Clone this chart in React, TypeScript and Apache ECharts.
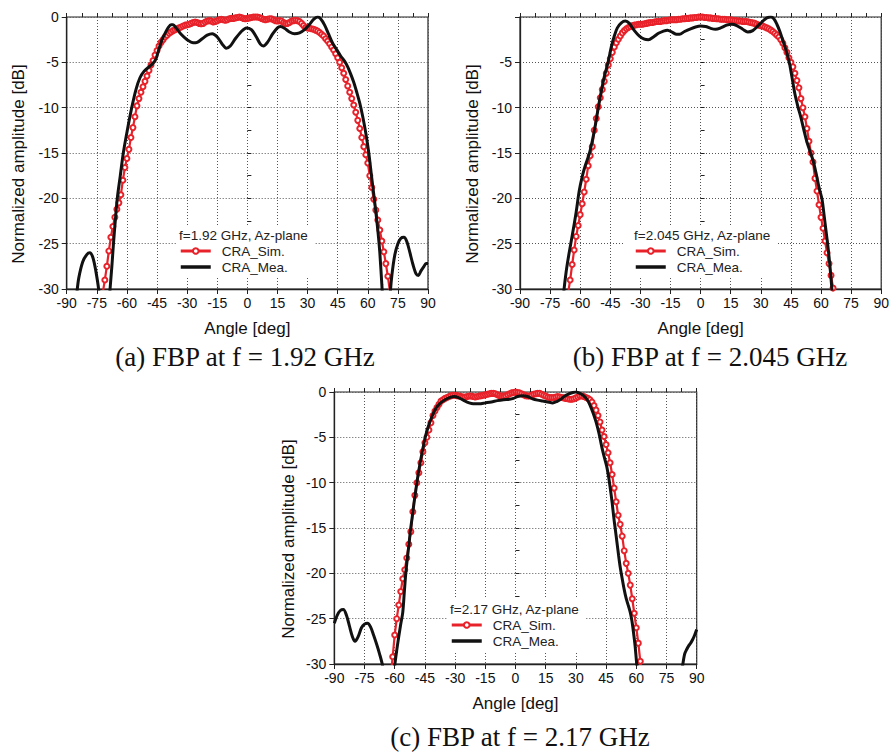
import React, { useEffect, useRef } from 'react';
import * as echarts from 'echarts';

// ---------- DATA ----------
const SERIES_NAMES = ['CRA_Sim.', 'CRA_Mea.'];
const LEGEND_TITLES = ['f=1.92 GHz, Az-plane', 'f=2.045 GHz, Az-plane', 'f=2.17 GHz, Az-plane'];
const CAPTIONS = ['(a) FBP at f = 1.92 GHz', '(b) FBP at f = 2.045 GHz', '(c) FBP at f = 2.17 GHz'];
const X_TITLE = 'Angle [deg]';
const Y_TITLE = 'Normalized amplitude [dB]';

// Simulated patterns, 1-degree steps starting at *_START
const SIM_A_START = -73;
const SIM_A = [
  -31.6, -30.4, -29.0, -27.5, -25.8, -24.3, -23.1, -22.1, -21.2, -20.5,
  -19.6, -18.0, -16.6, -15.6, -14.6, -13.3, -12.2, -11.0, -9.8, -9.0,
  -8.3, -7.7, -7.1, -6.5, -5.9, -5.3, -4.8, -4.2, -3.7, -3.2,
  -2.8, -2.5, -2.2, -2.0, -1.8, -1.65, -1.5, -1.4, -1.3, -1.2,
  -1.1, -1.0, -0.9, -0.85, -0.8, -0.7, -0.6, -0.55, -0.6, -0.7,
  -0.75, -0.7, -0.55, -0.45, -0.4, -0.45, -0.55, -0.5, -0.4, -0.3,
  -0.25, -0.3, -0.35, -0.3, -0.2, -0.15, -0.15, -0.1, -0.05, 0,
  -0.05, -0.15, -0.2, -0.15, -0.1, -0.05, 0, 0, 0, -0.05,
  -0.15, -0.25, -0.3, -0.25, -0.2, -0.2, -0.3, -0.4, -0.45, -0.4,
  -0.45, -0.6, -0.7, -0.7, -0.6, -0.45, -0.4, -0.35, -0.4, -0.5,
  -0.7, -0.95, -1.15, -1.2, -1.25, -1.3, -1.35, -1.45, -1.55, -1.7,
  -1.9, -2.1, -2.4, -2.65, -2.95, -3.3, -3.65, -4.05, -4.5, -5.0,
  -5.6, -6.2, -6.9, -7.6, -8.3, -9.0, -9.7, -10.5, -11.4, -12.3,
  -13.3, -14.3, -15.2, -16.1, -17.5, -18.8, -20.1, -21.3, -22.4, -23.5,
  -24.7, -25.9, -27.2, -28.6, -30.2, -31.6,
];

const SIM_B_START = -67;
const SIM_B = [
  -31.8, -30.4, -29.0, -27.3, -25.7, -24.2, -23.0, -21.8, -20.6, -19.3,
  -17.9, -16.4, -15.3, -14.3, -12.5, -11.2, -9.9, -8.9, -8.0, -7.1,
  -6.2, -5.3, -4.6, -3.9, -3.3, -2.85, -2.45, -2.1, -1.75, -1.5,
  -1.3, -1.15, -1.05, -0.95, -0.9, -0.85, -0.8, -0.8, -0.8, -0.75,
  -0.7, -0.65, -0.6, -0.6, -0.55, -0.5, -0.5, -0.5, -0.45, -0.4,
  -0.4, -0.35, -0.3, -0.3, -0.3, -0.3, -0.25, -0.25, -0.2, -0.2,
  -0.15, -0.15, -0.1, -0.1, -0.05, -0.05, 0, 0, 0, -0.05,
  -0.05, -0.1, -0.1, -0.15, -0.15, -0.2, -0.2, -0.25, -0.25, -0.25,
  -0.3, -0.3, -0.3, -0.35, -0.4, -0.4, -0.45, -0.45, -0.5, -0.5,
  -0.5, -0.55, -0.6, -0.65, -0.7, -0.8, -0.9, -0.95, -1.0, -1.1,
  -1.2, -1.3, -1.45, -1.6, -1.8, -2.0, -2.2, -2.5, -2.9, -3.4,
  -3.9, -4.5, -5.0, -5.5, -6.2, -7.0, -7.8, -9.0, -10.0, -11.0,
  -12.3, -13.7, -15.0, -16.0, -17.8, -19.2, -20.7, -22.1, -23.3, -24.7,
  -26.0, -27.2, -28.5, -29.9, -31.3,
];

const SIM_C_START = -63;
const SIM_C = [
  -33, -31.3, -29.2, -26.8, -25.0, -23.5, -22.0, -20.6, -19.6, -18.3,
  -16.8, -15.4, -13.2, -11.4, -10.0, -8.9, -7.8, -6.6, -5.6, -5.0,
  -4.2, -3.4, -2.6, -2.1, -1.7, -1.35, -1.0, -0.85, -0.7, -0.6,
  -0.5, -0.4, -0.35, -0.35, -0.4, -0.45, -0.5, -0.55, -0.55, -0.5,
  -0.45, -0.45, -0.5, -0.55, -0.5, -0.45, -0.4, -0.35, -0.3, -0.25,
  -0.2, -0.15, -0.15, -0.2, -0.3, -0.4, -0.45, -0.45, -0.4, -0.3,
  -0.2, -0.1, -0.05, 0, -0.05, -0.1, -0.2, -0.3, -0.4, -0.45,
  -0.45, -0.35, -0.25, -0.2, -0.15, -0.15, -0.25, -0.35, -0.45, -0.55,
  -0.6, -0.6, -0.6, -0.55, -0.5, -0.55, -0.6, -0.65, -0.7, -0.75,
  -0.8, -0.8, -0.75, -0.65, -0.55, -0.45, -0.45, -0.5, -0.6, -0.7,
  -0.85, -1.1, -1.5, -2.0, -2.6, -3.3, -4.2, -4.9, -5.8, -6.7,
  -7.8, -9.1, -10.6, -12.1, -13.6, -14.6, -15.9, -17.5, -18.9, -20.0,
  -21.3, -22.8, -24.4, -26.0, -27.7, -29.7, -32,
];

// Measured patterns: [angle, dB]
const MEAS_A: [number, number | string][] = [
  [-86, -32], [-85, -30.5], [-84, -28.8], [-82, -27.0], [-80, -26.2], [-78.5, -26.0],
  [-77, -26.5], [-75.5, -28.0], [-74, -30.2], [-73, -33], [-71, -38], [-69, -32],
  [-68.4, -30], [-67.5, -27.5], [-66.7, -25], [-65.8, -22.5], [-64.8, -20], [-63.3, -17.5],
  [-61.8, -15], [-59.8, -12.5], [-57.6, -10], [-55.5, -8.0], [-53.5, -6.7], [-51.5, -6.0],
  [-49, -5.5], [-47, -5.1], [-45.5, -4.6], [-44, -3.5], [-42.5, -2.5], [-41, -1.8],
  [-39.5, -1.2], [-38, -0.85], [-37, -0.85], [-35.5, -1.2], [-33, -1.9], [-30, -2.5],
  [-27, -2.85], [-25, -2.8], [-22.5, -2.4], [-20, -2.0], [-17.5, -1.85], [-15, -2.2],
  [-12.5, -3.0], [-10.5, -3.45], [-8.5, -3.2], [-6, -2.4], [-3, -1.6], [-0.5, -1.2],
  [2, -1.4], [4.5, -2.2], [6.5, -3.0], [8, -3.2], [10, -2.8], [12.5, -1.9],
  [15, -1.2], [16.5, -1.05], [18.5, -1.25], [21, -1.65], [23.5, -1.85], [26, -1.75],
  [28.5, -1.4], [31, -0.8], [33, -0.25], [35, 0], [36.5, -0.2], [38.5, -0.9],
  [40.5, -1.9], [42.5, -2.9], [44.5, -3.6], [46.5, -4.3], [48.5, -4.9], [50, -5.5],
  [51.5, -6.3], [53, -7.2], [54.5, -8.3], [56, -9.5], [57.5, -11], [59, -12.8],
  [60.5, -15], [62, -17.8], [63.5, -20.5], [65, -23.5], [66, -26], [67, -29.5],
  [68, -33], [69.5, -36], [71, -31], [72, -28.5], [73.5, -26.2], [75, -25.0],
  [76.5, -24.4], [78, -24.3], [79.5, -24.8], [81, -26.0], [82.5, -27.3], [84, -28.3],
  [85.2, -28.5], [86.5, -28.0], [88, -27.5], [89, -27.2], [90, -27.2],
];

const MEAS_B: [number, number | string][] = [
  [-70, -35], [-68.5, -31], [-67, -28.1], [-65.5, -26.0], [-63.5, -23.5], [-62, -21.5],
  [-60.5, -19.2], [-59, -17.6], [-57.5, -16.4], [-55.5, -15.1], [-54, -13.7], [-52.5, -12.0],
  [-51, -10], [-49.5, -8.2], [-48, -6.6], [-46, -4.9], [-44.5, -3.3], [-43, -2.1],
  [-41.5, -1.2], [-39.5, -0.65], [-37.5, -0.45], [-35.5, -0.7], [-33, -1.5], [-30.5, -2.1],
  [-28, -2.45], [-26, -2.5], [-23.5, -2.2], [-21, -1.8], [-18.5, -1.55], [-16.5, -1.45],
  [-14, -1.7], [-12, -1.9], [-10.5, -1.9], [-8, -1.6], [-5, -1.3], [-2.5, -1.1],
  [0, -1.0], [2.5, -1.05], [5, -1.25], [7.5, -1.35], [10, -1.2], [13, -0.9],
  [15.5, -0.8], [18, -0.95], [21, -1.35], [23.5, -1.65], [26, -1.5], [28.5, -1.0],
  [31, -0.45], [33, -0.1], [35, 0], [36.5, -0.2], [38, -0.8], [39.5, -1.6],
  [41, -2.6], [42.5, -3.6], [44, -4.8], [45.5, -6.6], [47, -8.5], [48.5, -9.9],
  [50, -11.1], [51.5, -12.5], [53, -13.8], [54.5, -14.8], [56, -15.8], [57.5, -17.2],
  [59, -18.8], [60.5, -20.1], [61.5, -21.8], [62.5, -23.6], [63.5, -25.4], [64.5, -27.6],
  [65.5, -30.2], [66.5, -33],
];

const MEAS_C: [number, number | string][] = [
  [-90, -25.5], [-88.5, -24.6], [-87, -24.1], [-85.5, -24.0], [-84, -24.6], [-82.5, -25.8],
  [-81, -27.0], [-79.7, -27.5], [-78, -26.9], [-76.5, -26.0], [-75, -25.6], [-73.5, -25.5],
  [-72, -25.9], [-70.5, -26.8], [-69, -27.8], [-67.5, -28.9], [-66, -30.2], [-64.5, -32.5],
  [-63, -35], [-61.5, -33.5], [-60, -30.2], [-59, -28.5], [-58, -27.0], [-57, -25.6],
  [-56, -24.3], [-55.2, -22.0], [-54.5, -20.0], [-53.8, -18.5], [-53, -17], [-52.2, -15.3],
  [-51.3, -13.8], [-50.5, -12.4], [-49.5, -10.8], [-48.5, -9.3], [-47.5, -8.0], [-46.5, -6.8],
  [-45.5, -5.7], [-44.5, -4.7], [-43.3, -3.8], [-42, -3.0], [-40.8, -2.35], [-39.5, -1.8],
  [-37.5, -1.25], [-35, -0.85], [-32.5, -0.6], [-30.5, -0.5], [-28, -0.65], [-25.5, -0.95],
  [-23, -1.2], [-21, -1.3], [-18, -1.3], [-15, -1.2], [-12, -1.1], [-9, -0.95],
  [-6, -0.85], [-3, -0.8], [-1, -0.7], [1, -0.5], [3.5, -0.4], [6, -0.5],
  [8.5, -0.75], [11, -0.9], [13.5, -1.0], [16, -1.1], [18.5, -1.2], [20.5, -1.05],
  [22.5, -0.8], [24.5, -0.45], [26.5, -0.2], [28.5, -0.05], [29.8, 0], [31.5, -0.1],
  [33.5, -0.35], [35.5, -0.8], [37, -1.45], [38.5, -2.3], [40, -3.3], [41.5, -4.6],
  [42.8, -6.0], [44, -7.1], [45.3, -8.2], [46.2, -9.3], [47, -10.5], [48, -12.2],
  [48.8, -13.8], [49.6, -15.2], [50.4, -16.6], [51.2, -18.0], [52, -19.3], [53, -20.6],
  [54, -21.8], [55, -22.8], [56.1, -23.6], [57, -24.3], [57.8, -25.2], [58.6, -26.5],
  [59.4, -28.0], [60.2, -30], [61, -32], [62, -35], [72, '-'],
  [82, -32], [83, -30.2], [84, -28.9], [85, -28.4], [86, -28.0], [87, -27.7],
  [88, -27.3], [89, -26.8], [90, -26.2],
];

// ---------- LAYOUT ----------
const FONT = "'Liberation Sans', Arial, Helvetica, sans-serif";
const SERIF = "'Liberation Serif', 'Times New Roman', Times, serif";
const RED = '#e8222a';
const BLACK = '#111111';
const AXIS_COLOR = '#222222';

const PANELS = [
  {
    grid: { left: 66.7, top: 17, width: 361.3, height: 272 },
    sim: SIM_A, simStart: SIM_A_START, meas: MEAS_A,
    title: LEGEND_TITLES[0], caption: CAPTIONS[0], hideZero: false,
    lx: 179, ly: 235, boxX: 176, boxW: 139,
    yTitle: [18, 164], cap: [245, 357],
  },
  {
    grid: { left: 520, top: 17, width: 362.7, height: 272 },
    sim: SIM_B, simStart: SIM_B_START, meas: MEAS_B,
    title: LEGEND_TITLES[1], caption: CAPTIONS[1], hideZero: true,
    lx: 634, ly: 235, boxX: 623, boxW: 155,
    yTitle: [472, 164], cap: [710, 357],
  },
  {
    grid: { left: 334.3, top: 392, width: 362.4, height: 272 },
    sim: SIM_C, simStart: SIM_C_START, meas: MEAS_C,
    title: LEGEND_TITLES[2], caption: CAPTIONS[2], hideZero: false,
    lx: 450, ly: 609, boxX: 447, boxW: 139,
    yTitle: [288, 539], cap: [520, 737],
  },
];

function buildOption() {
  const grid: any[] = [];
  const xAxis: any[] = [];
  const yAxis: any[] = [];
  const series: any[] = [];
  const legend: any[] = [];
  const graphic: any[] = [];

  PANELS.forEach((p, i) => {
    grid.push({ ...p.grid, show: true, borderColor: AXIS_COLOR, borderWidth: 1.2, backgroundColor: 'transparent' });

    const labelStyle = { fontFamily: FONT, fontSize: 14, color: '#111' };
    xAxis.push({
      type: 'value', gridIndex: i, position: 'bottom', min: -90, max: 90, interval: 15,
      axisLine: { show: true, onZero: false, lineStyle: { color: AXIS_COLOR, width: 1.3 } },
      axisTick: { show: true, inside: false, length: 5, lineStyle: { color: AXIS_COLOR, width: 1 } },
      axisLabel: { ...labelStyle, margin: 7 },
      splitLine: { show: true, lineStyle: { color: '#555', width: 1, type: [1, 2] } },
      name: X_TITLE, nameLocation: 'middle', nameGap: 31,
      nameTextStyle: { fontFamily: FONT, fontSize: 17, color: '#111' },
    });
    xAxis.push({
      type: 'value', gridIndex: i, position: 'bottom', min: -90, max: 90, interval: 7.5,
      axisLine: { show: false },
      axisTick: { show: true, inside: true, length: 4, lineStyle: { color: AXIS_COLOR, width: 1 } },
      axisLabel: { show: false }, splitLine: { show: false },
    });
    yAxis.push({
      type: 'value', gridIndex: i, position: 'left', min: -30, max: 0, interval: 5,
      axisLine: { show: true, onZero: false, lineStyle: { color: AXIS_COLOR, width: 1.3 } },
      axisTick: { show: true, inside: false, length: 5, lineStyle: { color: AXIS_COLOR, width: 1 } },
      axisLabel: {
        ...labelStyle, margin: 8,
        formatter: (v: number) => (p.hideZero && v === 0 ? '' : String(v)),
      },
      splitLine: { show: true, lineStyle: { color: '#555', width: 1, type: [1, 2] } },
    });
    yAxis.push({
      type: 'value', gridIndex: i, position: 'left', min: -30, max: 0, interval: 2.5,
      axisLine: { show: false },
      axisTick: { show: true, inside: true, length: 4, lineStyle: { color: AXIS_COLOR, width: 1 } },
      axisLabel: { show: false }, splitLine: { show: false },
    });

    series.push({
      name: SERIES_NAMES[0], type: 'line', xAxisIndex: i * 2, yAxisIndex: i * 2,
      data: p.sim.map((v, k) => [p.simStart + k, v]),
      symbol: 'emptyCircle', symbolSize: 5, showAllSymbol: true,
      lineStyle: { color: RED, width: 2.2 },
      itemStyle: { color: RED, borderColor: RED, borderWidth: 1.2 },
      z: 2, clip: true,
    });
    series.push({
      name: SERIES_NAMES[1], type: 'line', xAxisIndex: i * 2, yAxisIndex: i * 2,
      data: p.meas, smooth: 0.3, symbol: 'none', connectNulls: false,
      lineStyle: { color: BLACK, width: 3 },
      itemStyle: { color: 'rgba(0,0,0,0)', borderWidth: 0 },
      z: 3, clip: true,
    });

    legend.push({
      data: [
        { name: SERIES_NAMES[0], lineStyle: { width: 3 } },
        { name: SERIES_NAMES[1], lineStyle: { width: 3.5 }, itemStyle: { color: 'rgba(0,0,0,0)', borderWidth: 0, opacity: 0 } },
      ],
      orient: 'vertical', left: p.lx, top: p.ly + 8,
      itemWidth: 30, itemHeight: 7, itemGap: 0, padding: 0, selectedMode: false,
      textStyle: { fontFamily: FONT, fontSize: 13.5, color: '#222', lineHeight: 16, padding: [0, 0, 0, 6] },
      z: 6,
    });

    graphic.push({
      type: 'rect', z: 1, silent: true,
      shape: { x: p.boxX, y: p.ly - 10, width: p.boxW, height: 53 },
      style: { fill: '#ffffff' },
    });
    graphic.push({
      type: 'text', z: 10, x: p.lx, y: p.ly, silent: true,
      style: { text: p.title, fontFamily: FONT, fontSize: 13.5, fill: '#222', textAlign: 'left', align: 'left', textVerticalAlign: 'middle', verticalAlign: 'middle' },
    });
    graphic.push({
      type: 'text', z: 10, x: p.yTitle[0], y: p.yTitle[1], rotation: Math.PI / 2, silent: true,
      style: { text: Y_TITLE, fontFamily: FONT, fontSize: 17, fill: '#111', textAlign: 'center', align: 'center', textVerticalAlign: 'middle', verticalAlign: 'middle' },
    });
    graphic.push({
      type: 'text', z: 10, x: p.cap[0], y: p.cap[1], silent: true,
      style: { text: p.caption, fontFamily: SERIF, fontSize: 27, lineHeight: 28, fill: '#111', textAlign: 'center', align: 'center', textVerticalAlign: 'middle', verticalAlign: 'middle' },
    });
  });

  return {
    animation: false,
    backgroundColor: '#ffffff',
    grid, xAxis, yAxis, series, legend, graphic,
  };
}

export default function App() {
  const ref = useRef<HTMLDivElement>(null);
  useEffect(() => {
    if (!ref.current) return;
    const chart = echarts.init(ref.current, undefined, { renderer: 'svg' });
    chart.setOption(buildOption() as any);
    return () => chart.dispose();
  }, []);
  return (
    <div
      ref={ref}
      style={{ position: 'absolute', left: 0, top: 0, width: 892, height: 753, background: '#fff' }}
    />
  );
}
